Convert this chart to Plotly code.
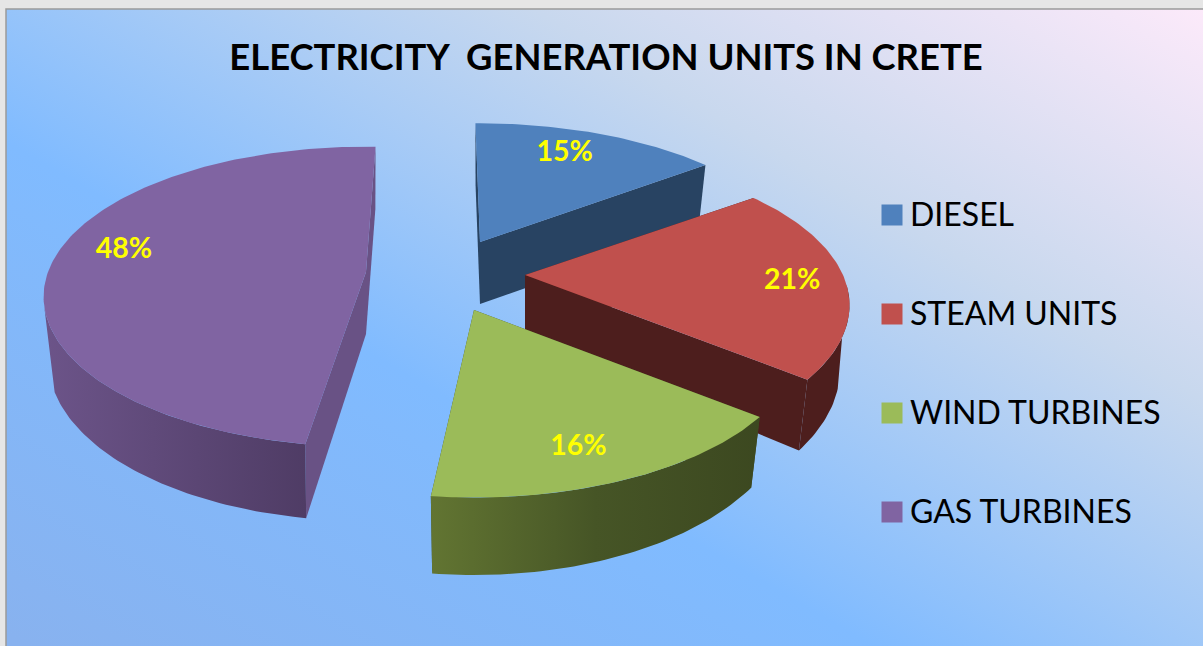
import base64
import math
import plotly.graph_objects as go

# ---- data ----
categories = ["DIESEL", "STEAM UNITS", "WIND TURBINES", "GAS TURBINES"]
shares = [15, 21, 16, 48]
title_text = "ELECTRICITY\u00a0\u00a0GENERATION UNITS IN CRETE"

# ---- styles ----
top_colors = ["#4f81bd", "#c0504d", "#9bbb59", "#8064a2"]
face_colors = ["#284362", "#4d1e1d", "#3f4a22", "#695285"]
rim_scale = [
    [[0, "#284362"], [1, "#284362"]],
    [[0, "#4d1e1d"], [1, "#4d1e1d"]],
    [[0, "#627532"], [0.5, "#465526"], [1, "#3c4820"]],
    [[0, "#6c5489"], [1, "#4f3c65"]],
]
FONT = "Lato, Carlito, Calibri, sans-serif"

# ---- projection of the tilted, exploded pie ----
W, H = 1203, 646
DEPTH = 62
radius = [320, 318, 320, 318]
flat = [145, 145, 150, 146]
persp = [0.222, 0.2, 0.2, 0.165]
low_shrink = [0.97, 0.97, 0.97, 0.985]
rim_top_cos = [-0.05, -0.05, -0.05, -0.2]
rim_low_cos = [-0.3, -0.3, -0.05, -0.34]
apex_x = [480, 525, 474, 366]
apex_y = [242, 275, 310, 272]
slice_turn = [-1, -0.5, -1, 2]
label_r = [0.8, 0.8, 0.8, 0.8]
label_dx = [-12, 12, -11, 8]
label_dy = [2, 4, 8, -10]
legend_y = [215, 314, 413, 512]
legend_mark_x, legend_text_x = 892, 910
legend_text_dy = 3


def project(i, deg, r=1.0, low=False):
    a = math.radians(deg)
    wy = r * math.cos(a)
    s = 1 / (1 + persp[i] * wy)
    dx = r * radius[i] * math.sin(a) * s
    dy = -flat[i] * wy * s
    if low:
        return apex_x[i] + low_shrink[i] * dx, apex_y[i] + dy + DEPTH * max(1, s)
    return apex_x[i] + dx, apex_y[i] + dy


def sweep(a0, a1):
    n = max(2, int(abs(a1 - a0)))
    return [a0 + (a1 - a0) * k / n for k in range(n + 1)]


def poly(fig, pts, color=None, gradient=None):
    xs = [p[0] for p in pts] + [pts[0][0]]
    ys = [p[1] for p in pts] + [pts[0][1]]
    kw = dict(fillgradient=gradient) if gradient else dict(fillcolor=color)
    fig.add_trace(go.Scatter(x=xs, y=ys, mode="lines", fill="toself",
                             line=dict(width=0), hoverinfo="skip",
                             showlegend=False, **kw))


total = sum(shares)
start = []
acc = 0
for v in shares:
    start.append(acc * 360 / total)
    acc += v
spans = [v * 360 / total for v in shares]

svg = f"""<svg xmlns='http://www.w3.org/2000/svg' width='{W}' height='{H}'>
<defs><linearGradient id='g' gradientUnits='userSpaceOnUse' x1='1203' y1='0' x2='625' y2='994'>
<stop offset='0' stop-color='#fdeafa'/><stop offset='0.3' stop-color='#c8d8ee'/>
<stop offset='0.63' stop-color='#80bbff'/><stop offset='1' stop-color='#88b2ef'/>
</linearGradient></defs>
<rect width='{W}' height='{H}' fill='#e6e6e6'/>
<rect x='6' y='9' width='{W}' height='{H}' fill='url(#g)' stroke='#9a9a9a' stroke-width='1.5'/>
</svg>"""
bg = "data:image/svg+xml;base64," + base64.b64encode(svg.encode()).decode()

fig = go.Figure()

for i in [0, 1, 3, 2]:  # painter's order, back to front
    a0 = start[i] + slice_turn[i]
    a1 = a0 + spans[i]
    for a in (a0, a1):
        poly(fig, [project(i, 0, 0), project(i, a), project(i, a, low=True),
                   project(i, 0, 0, low=True)], color=face_colors[i])
    arc = sweep(a0, a1)
    rim_top = [a for a in arc if math.cos(math.radians(a)) < rim_top_cos[i]]
    rim_low = [a for a in arc if math.cos(math.radians(a)) < rim_low_cos[i]]
    if rim_top:
        top_edge = [project(i, a) for a in rim_top]
        low_edge = [project(i, a, low=True) for a in reversed(rim_low)]
        poly(fig, top_edge + low_edge,
             gradient=dict(type="horizontal", colorscale=rim_scale[i]))
    poly(fig, [project(i, 0, 0)] + [project(i, a) for a in arc],
         color=top_colors[i])

# value labels
lx, ly = [], []
for i in range(4):
    x, y = project(i, start[i] + slice_turn[i] + spans[i] / 2, label_r[i])
    lx.append(x + label_dx[i])
    ly.append(y + label_dy[i])
fig.add_trace(go.Scatter(
    x=lx, y=ly, mode="text", text=[f"{v}%" for v in shares],
    textfont=dict(family=FONT, size=28.5, color="#ffff00", weight="bold"),
    textposition="middle center", hoverinfo="skip", showlegend=False))

# legend
fig.add_trace(go.Scatter(
    x=[legend_mark_x] * 4, y=legend_y, mode="markers",
    marker=dict(symbol="square", size=21, color=top_colors, line=dict(width=0)),
    hoverinfo="skip", showlegend=False))
fig.add_trace(go.Scatter(
    x=[legend_text_x] * 4, y=[v + legend_text_dy for v in legend_y], mode="text",
    text=categories,
    textfont=dict(family=FONT, size=32, color="#000000"),
    textposition="middle right", hoverinfo="skip", showlegend=False))

fig.update_layout(
    width=W, height=H, autosize=False, showlegend=False,
    margin=dict(l=0, r=0, t=0, b=0),
    paper_bgcolor="rgba(0,0,0,0)", plot_bgcolor="rgba(0,0,0,0)",
    xaxis=dict(range=[0, W], visible=False, fixedrange=True),
    yaxis=dict(range=[H, 0], visible=False, fixedrange=True),
    title=dict(text=title_text, x=606 / W, xanchor="center", y=1 - 57 / H,
               yanchor="middle", font=dict(family=FONT, size=36.4, color="#000000", weight="bold")),
    images=[dict(source=bg, xref="paper", yref="paper", x=0, y=1, sizex=1, sizey=1,
                 sizing="stretch", xanchor="left", yanchor="top", layer="below")],
)
fig.write_html("out.html", config={"displayModeBar": False},
               post_script="document.body.style.margin='0';document.body.style.overflow='hidden';")
